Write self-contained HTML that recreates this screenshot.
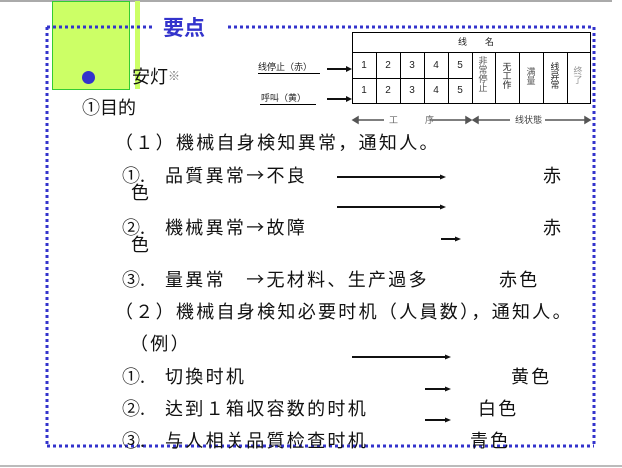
<!DOCTYPE html>
<html><head><meta charset="utf-8"><style>
body{margin:0;width:622px;height:468px;background:#fff;position:relative;overflow:hidden;font-family:"Liberation Sans","Noto Sans CJK JP",sans-serif;color:#111}
.t{position:absolute;white-space:nowrap;font-size:18px;line-height:20px;letter-spacing:2.3px;font-family:"Noto Sans CJK JP","Liberation Sans",sans-serif}
.s{position:absolute;white-space:nowrap;font-size:9px;line-height:10px;color:#222}
.n{position:absolute;font-size:10px;line-height:10px;width:24px;text-align:center;color:#222}
.v{position:absolute;font-size:9px;line-height:9px;width:10px;text-align:center;color:#555}
</style></head><body>
<div style="position:absolute;left:0;top:0;width:612px;height:2px;background:#aaa"></div>
<div style="position:absolute;left:0;top:465px;width:622px;height:2px;background:#bbb"></div>
<div style="position:absolute;left:52px;top:1px;width:76px;height:87px;background:#ccff66;border:1px solid #33cc33"></div>
<div style="position:absolute;left:135px;top:1px;width:5px;height:88px;background:#ccff66"></div>
<div style="position:absolute;left:82px;top:71px;width:13px;height:13px;border-radius:50%;background:#3333cc"></div>
<svg style="position:absolute;left:0;top:0" width="622" height="468">
<g stroke="#3333cc" stroke-width="3" stroke-dasharray="3 3" fill="none">
<line x1="47" y1="27" x2="152" y2="27"/><line x1="228" y1="27" x2="594" y2="27"/>
<line x1="47" y1="27" x2="47" y2="446"/><line x1="594" y1="27" x2="594" y2="446"/>
<line x1="47" y1="446" x2="594" y2="446"/></g>
<g stroke="#000" stroke-width="1" fill="none">
<rect x="352.5" y="32.5" width="238" height="71"/>
<line x1="352" y1="52.5" x2="590" y2="52.5"/><line x1="352" y1="78.5" x2="472" y2="78.5"/>
<line x1="376.5" y1="52" x2="376.5" y2="103"/><line x1="400.5" y1="52" x2="400.5" y2="103"/>
<line x1="424.5" y1="52" x2="424.5" y2="103"/><line x1="448.5" y1="52" x2="448.5" y2="103"/>
<line x1="472.5" y1="52" x2="472.5" y2="103"/><line x1="495.5" y1="52" x2="495.5" y2="103"/>
<line x1="519.5" y1="52" x2="519.5" y2="103"/><line x1="543.5" y1="52" x2="543.5" y2="103"/>
<line x1="567.5" y1="52" x2="567.5" y2="103"/>
<line x1="258" y1="73.5" x2="320" y2="73.5"/><line x1="260" y1="104.5" x2="316" y2="104.5"/>
</g>
<g stroke="#111" stroke-width="2" fill="#111">
<line x1="327" y1="69" x2="348" y2="69"/><polygon points="352,69 346,66 346,72" stroke="none"/>
<line x1="327" y1="99" x2="348" y2="99"/><polygon points="352,99 346,96 346,102" stroke="none"/>
<line x1="337" y1="177" x2="441" y2="177"/><polygon points="446,177 440,174.5 440,179.5" stroke="none"/>
<line x1="337" y1="207" x2="441" y2="207"/><polygon points="446,207 440,204.5 440,209.5" stroke="none"/>
<line x1="441" y1="239" x2="456" y2="239"/><polygon points="461,239 455,236.5 455,241.5" stroke="none"/>
<line x1="352" y1="357" x2="446" y2="357"/><polygon points="451,357 445,354.5 445,359.5" stroke="none"/>
<line x1="425" y1="389" x2="446" y2="389"/><polygon points="451,389 445,386.5 445,391.5" stroke="none"/>
<line x1="425" y1="420" x2="446" y2="420"/><polygon points="451,420 445,417.5 445,422.5" stroke="none"/>
</g>
<g stroke="#555" stroke-width="1.5" fill="#555">
<line x1="356" y1="120" x2="384" y2="120"/><line x1="430" y1="120" x2="468" y2="120"/>
<line x1="476" y1="120" x2="510" y2="120"/><line x1="545" y1="120" x2="586" y2="120"/>
<polygon points="353,120 358,117 358,123"/><polygon points="471,120 466,117 466,123"/>
<polygon points="473,120 478,117 478,123"/><polygon points="590,120 585,117 585,123"/>
</g>
</svg>
<div class="t" style="left:163px;top:14px;font-size:21px;line-height:26px;color:#3333cc;font-weight:bold;letter-spacing:0">要点</div>
<div class="t" style="left:132px;top:66px;letter-spacing:0">安灯<span style="font-size:12px;color:#777;vertical-align:top">※</span></div>
<div class="t" style="left:82px;top:97px;letter-spacing:0">①目的</div>
<div class="s" style="left:458px;top:37px">线　　名</div>
<div class="s" style="left:258px;top:62px">线停止（赤）</div>
<div class="s" style="left:261px;top:93px">呼叫（黄）</div>
<div class="n" style="left:352px;top:61px">1</div><div class="n" style="left:376px;top:61px">2</div><div class="n" style="left:400px;top:61px">3</div><div class="n" style="left:424px;top:61px">4</div><div class="n" style="left:448px;top:61px">5</div>
<div class="n" style="left:352px;top:86px">1</div><div class="n" style="left:376px;top:86px">2</div><div class="n" style="left:400px;top:86px">3</div><div class="n" style="left:424px;top:86px">4</div><div class="n" style="left:448px;top:86px">5</div>
<div class="v" style="left:478px;top:57px">非常停止</div>
<div class="v" style="left:502px;top:63px;color:#222">无工作</div>
<div class="v" style="left:526px;top:68px">满量</div>
<div class="v" style="left:550px;top:63px;color:#222">线异常</div>
<div class="v" style="left:573px;top:67px;color:#999">终了</div>
<div class="s" style="left:389px;top:115px;color:#666">工　　　序</div>
<div class="s" style="left:515px;top:115px;color:#444">线状態</div>
<div class="t" style="left:115px;top:132px">（１）機械自身検知異常，通知人。</div>
<div class="t" style="left:122px;top:165px;letter-spacing:0">①.</div><div class="t" style="left:165px;top:165px">品質異常→不良</div><div class="t" style="left:543px;top:165px">赤</div>
<div class="t" style="left:131px;top:182px">色</div>
<div class="t" style="left:122px;top:217px;letter-spacing:0">②.</div><div class="t" style="left:165px;top:217px">機械異常→故障</div><div class="t" style="left:543px;top:217px">赤</div>
<div class="t" style="left:131px;top:234px">色</div>
<div class="t" style="left:122px;top:269px;letter-spacing:0">③.</div><div class="t" style="left:165px;top:269px">量異常　→无材料、生产過多</div><div class="t" style="left:499px;top:269px">赤色</div>
<div class="t" style="left:115px;top:301px">（２）機械自身検知必要时机（人員数），通知人。</div>
<div class="t" style="left:130px;top:333px">（例）</div>
<div class="t" style="left:122px;top:366px;letter-spacing:0">①.</div><div class="t" style="left:165px;top:366px">切換时机</div><div class="t" style="left:511px;top:366px">黄色</div>
<div class="t" style="left:122px;top:398px;letter-spacing:0">②.</div><div class="t" style="left:165px;top:398px">达到１箱収容数的时机</div><div class="t" style="left:478px;top:398px">白色</div>
<div class="t" style="left:122px;top:430px;letter-spacing:0">③.</div><div class="t" style="left:165px;top:430px">与人相关品質检查时机</div><div class="t" style="left:470px;top:430px">青色</div>
</body></html>
